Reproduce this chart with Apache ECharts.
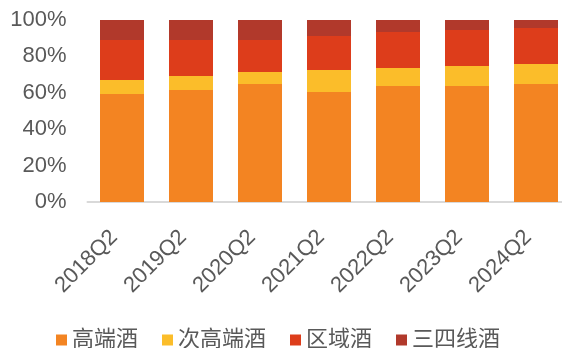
<!DOCTYPE html>
<html>
<head>
<meta charset="utf-8">
<script src="https://cdn.jsdelivr.net/npm/echarts@6/dist/echarts.min.js"></script>
<style>
* { margin: 0; padding: 0; }
body { overflow: hidden; width: 562px; height: 348px; }
/* 画布比窗口稍宽，最后一根柱子的类目带伸出右边界 */
#main { width: 571px; height: 348px; }
</style>
</head>
<body>
<div id="main"></div>
<script>
// 季度
var quarters = ["2018Q2", "2019Q2", "2020Q2", "2021Q2", "2022Q2", "2023Q2", "2024Q2"];
// 各档占比 (%)
var gaoduan = [59.3, 61.5, 64.8, 60.4, 63.7, 63.7, 64.8];
var cigaoduan = [7.7, 7.7, 6.6, 12.1, 9.9, 11, 11];
var quyu = [22, 19.8, 17.6, 18.7, 19.8, 19.8, 19.8];
var sansi = [11, 11, 11, 8.8, 6.6, 5.5, 4.4];
var yTicks = [0, 20, 40, 60, 80, 100];

var font = "Liberation Sans, Arial, Noto Sans CJK SC";
var textColor = "#595959";

var chart = echarts.init(document.getElementById("main"));

function bar(name, data, color) {
  return {
    name: name,
    type: "bar",
    stack: "total",
    barWidth: 44,
    itemStyle: { color: color },
    data: data
  };
}

chart.setOption({
  animation: false,
  grid: { left: 87.5, top: 20, right: 0.5, bottom: 146 },
  legend: {
    top: 329,
    left: 56,
    padding: 0,
    itemWidth: 11,
    itemHeight: 11,
    itemGap: 24,
    icon: "rect",
    textStyle: { fontSize: 22, color: textColor, fontFamily: font },
    data: ["高端酒", "次高端酒", "区域酒", "三四线酒"]
  },
  xAxis: {
    type: "category",
    data: quarters,
    axisTick: { show: false },
    axisLine: { lineStyle: { color: "#d9d9d9", width: 2 } },
    axisLabel: {
      rotate: 45,
      margin: 24,
      padding: [0, 11, 0, 0],
      fontSize: 22,
      color: textColor,
      fontFamily: font,
      interval: 0
    }
  },
  yAxis: {
    type: "value",
    min: yTicks[0],
    max: yTicks[yTicks.length - 1],
    interval: 20,
    splitLine: { show: false },
    axisLine: { show: false },
    axisTick: { show: false },
    axisLabel: {
      formatter: "{value}%",
      margin: 21,
      fontSize: 22,
      color: textColor,
      fontFamily: font
    }
  },
  series: [
    bar("高端酒", gaoduan, "#F38422"),
    bar("次高端酒", cigaoduan, "#FBBD2A"),
    bar("区域酒", quyu, "#DD3D1B"),
    bar("三四线酒", sansi, "#B1392B")
  ]
});
</script>
</body>
</html>
